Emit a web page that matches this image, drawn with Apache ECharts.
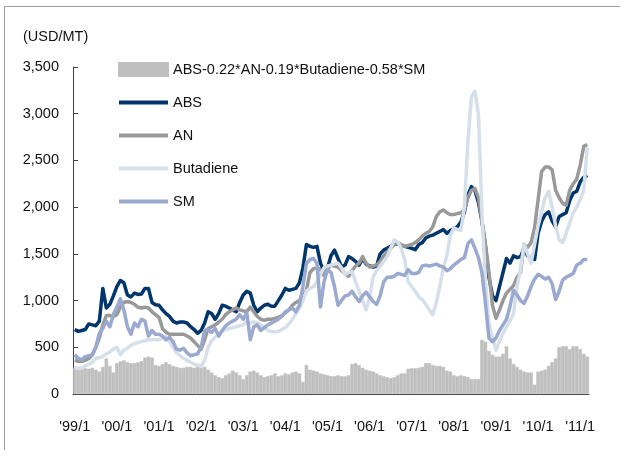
<!DOCTYPE html>
<html>
<head>
<meta charset="utf-8">
<script src="https://cdn.jsdelivr.net/npm/echarts@6/dist/echarts.min.js"></script>
<style>
  html, body { margin: 0; padding: 0; background: #fff; }
  #main { width: 624px; height: 459px; }
</style>
</head>
<body>
<div id="main"></div>
<script>
// monthly, '99/1 .. '11/3
var startYear = 1999;
var monthCount = 147;
var categories = [];
for (var k = 0; k < monthCount; k++) {
  var yy = startYear + Math.floor(k / 12);
  categories.push("'" + String(yy).slice(2) + '/' + (k % 12 + 1));
}

var spreadName = 'ABS-0.22*AN-0.19*Butadiene-0.58*SM';

var spread = [
  280, 275, 265, 275, 270, 280, 260, 240, 290, 380, 300, 230,
  330, 350, 360, 340, 330, 330, 340, 350, 390, 400, 390, 310,
  300, 320, 340, 320, 300, 290, 280, 280, 290, 290, 280, 300,
  280, 290, 260, 230, 200, 180, 170, 200, 220, 250, 230, 200,
  160, 200, 240, 250, 230, 200, 180, 190, 200, 220, 190, 200,
  220, 210, 230, 240, 220, 130, 310, 260, 250, 240, 220, 210,
  200, 190, 190, 200, 190, 190, 200, 320, 330, 310, 280, 260,
  250, 240, 220, 200, 190, 180, 170, 180, 200, 220, 220, 270,
  275, 275, 280, 290, 330, 330, 310, 300, 300, 290, 250, 240,
  200, 190, 200, 190, 180, 160, 160, 160, 580, 560, 460, 420,
  400, 400, 430, 510, 380, 320, 290, 260, 240, 230, 230, 100,
  240, 250, 260, 300, 340, 380, 500, 510, 510, 480, 510, 510,
  480, 430, 400
];

var abs = [
  690, 670, 680, 690, 750, 740, 730, 780, 1130, 920, 960, 1050,
  1150, 1215, 1190, 1060, 1040, 1080, 1065, 1070, 1130, 1130, 980, 955,
  950, 900, 860, 830, 780, 760, 770, 770, 760, 720, 690, 650,
  680, 760, 880, 860, 800, 860, 950, 940, 920, 900, 880, 980,
  1060, 1100, 1080, 950, 880, 920, 950, 960, 940, 940, 1000, 1060,
  1130, 1110, 1120, 1130, 1190, 1350, 1600, 1580, 1570, 1580, 1400, 1310,
  1350, 1480, 1540, 1450, 1360, 1380, 1470, 1450, 1420, 1380, 1450, 1390,
  1370, 1360, 1370, 1500, 1540, 1560, 1580, 1600, 1610, 1590, 1580, 1570,
  1560, 1545, 1600, 1620, 1670, 1690, 1700, 1720, 1740, 1760, 1720, 1750,
  1770, 1790, 1840, 1950, 2130, 2220, 2180, 2050, 1850, 1580, 1250, 1050,
  1000, 1150, 1300, 1450, 1400, 1480, 1460, 1470, 1560, 1480, 1450, 1440,
  1720, 1850, 1920, 1950, 1850, 1790, 1900, 1920, 1940, 2070, 2150, 2170,
  2270, 2320, 2340
];

var an = [
  360, 350, 350, 360, 380, 420, 500, 600, 740, 840, 840, 830,
  850, 930, 980, 990, 980, 960, 930, 920, 930, 920, 880, 850,
  820, 700, 660, 640, 640, 640, 640, 640, 620, 600, 560, 520,
  480, 580, 700, 720, 740, 770, 800, 850, 880, 900, 920, 900,
  890, 880, 930, 880, 830, 800, 790, 800, 800, 810, 820, 840,
  870, 900, 950, 980, 1000, 1050, 1110, 1300, 1340, 1350, 1330, 1270,
  1340, 1380, 1370, 1360, 1320, 1290, 1260, 1320, 1370, 1400, 1470, 1400,
  1360, 1370, 1380, 1420, 1480, 1520, 1560, 1600, 1620, 1600, 1580, 1590,
  1600, 1620, 1650, 1690, 1720, 1740, 1790, 1900, 1950, 1970, 1940, 1920,
  1920, 1930, 1940, 1970, 2100, 2180, 2200, 2100, 1850, 1600, 1300, 950,
  810, 900, 1000, 1080, 1120, 1160, 1250, 1300, 1600, 1570, 1620, 1780,
  2080, 2380, 2430, 2430, 2400, 2180, 2100, 2040, 2020, 2180, 2250, 2300,
  2450, 2650, 2670
];

var butadiene = [
  280, 275, 280, 300, 320, 340, 380, 390, 400, 430, 450, 480,
  500, 420, 470, 490, 520, 540, 550, 560, 570, 580, 580, 580,
  580, 600, 610, 560, 500, 440, 410, 380, 360, 340, 320, 310,
  300, 360, 500, 570, 610, 640, 670, 690, 700, 710, 720, 730,
  740, 780, 760, 770, 760, 740, 710, 680, 670, 665, 670, 690,
  710, 750, 800, 860, 920, 1000, 1100, 1130, 1150, 1200, 1280, 1350,
  1370, 1380, 1390, 1400, 1350, 1280, 1300, 1310, 1200, 1100, 1000, 900,
  1040, 1250, 1320, 1370, 1420, 1470, 1560, 1650, 1630, 1560, 1440, 1200,
  1150, 1100, 1040, 1010, 960, 900, 850, 980, 1150, 1350, 1480, 1700,
  1780, 1760, 1750, 2000, 2700, 3180, 3240, 3000, 1950, 1200, 750, 600,
  470, 560, 650, 720, 780, 860, 1150, 1330, 1610, 1500, 1400, 1600,
  1800, 1950, 2100, 2170, 2000, 1800, 1650, 1620, 1720, 1830, 1940, 2000,
  2080, 2180, 2640
];

var sm = [
  420, 380, 370, 400, 410, 420, 500, 650, 700, 780, 720, 850,
  930, 1020, 900, 720, 640, 760, 720, 800, 780, 620, 680, 640,
  640, 620, 580, 610, 560, 480, 470, 490, 440, 410, 420, 430,
  500, 680, 690, 660, 700, 620, 680, 730, 760, 780, 800, 850,
  800, 870, 580, 720, 740, 680, 710, 740, 760, 780, 800, 830,
  880, 900, 920, 880, 950, 1150, 1400, 1440, 1450, 1400, 930, 1200,
  1330, 1300, 1150, 950, 1000, 1050, 1060, 1100, 1040, 990, 1050, 1090,
  1040, 990, 960, 1050, 1200, 1250, 1250, 1260, 1290, 1280, 1270, 1330,
  1290, 1290, 1300, 1370, 1380, 1370, 1380, 1390, 1370, 1360, 1320, 1340,
  1380, 1410, 1440, 1460, 1610, 1650, 1560, 1460, 1300, 970, 600, 560,
  600, 680, 740, 800, 940, 1110, 1060, 1000, 970, 1050, 1150, 1230,
  1280, 1260, 1230, 1250, 1180, 1010, 1100, 1220, 1250, 1270, 1290, 1380,
  1400, 1440, 1440
];

var fontFamily = '"Liberation Sans", Arial, sans-serif';
var lineIcon = 'path://M0,0H49V4H0Z';

var chart = echarts.init(document.getElementById('main'));

function lineSeries(name, data, color) {
  return {
    name: name,
    type: 'line',
    data: data,
    showSymbol: false,
    symbol: 'none',
    smooth: false,
    lineStyle: { width: 3.5, color: color, join: 'round' },
    itemStyle: { color: color },
    emphasis: { disabled: true }
  };
}

var option = {
  animation: false,
  backgroundColor: '#fff',
  textStyle: { fontFamily: fontFamily },
  grid: { left: 73, right: 35, top: 67, bottom: 65, containLabel: false },
  legend: {
    orient: 'vertical',
    left: 118,
    top: 62,
    padding: 0,
    itemWidth: 49,
    itemHeight: 13,
    itemGap: 18,
    textStyle: { fontSize: 14.5, color: '#111', fontFamily: fontFamily },
    data: [
      { name: spreadName, icon: 'rect' },
      { name: 'ABS', icon: lineIcon },
      { name: 'AN', icon: lineIcon },
      { name: 'Butadiene', icon: lineIcon },
      { name: 'SM', icon: lineIcon }
    ]
  },
  xAxis: {
    type: 'category',
    data: categories,
    boundaryGap: true,
    axisLine: { lineStyle: { color: '#404040', width: 1 } },
    axisTick: { inside: true, length: 6, interval: 11, lineStyle: { color: '#404040' } },
    axisLabel: { interval: 11, margin: 25, fontSize: 14.5, color: '#111', fontFamily: fontFamily },
    splitLine: { show: false }
  },
  yAxis: {
    type: 'value',
    min: 0,
    max: 3500,
    interval: 500,
    axisLine: { show: true, lineStyle: { color: '#404040', width: 1 } },
    axisTick: { show: true, inside: true, length: 5, lineStyle: { color: '#404040' } },
    axisLabel: {
      margin: 14, fontSize: 14.5, color: '#111', fontFamily: fontFamily,
      formatter: function (v) { return v.toLocaleString('en-US'); }
    },
    splitLine: { show: false }
  },
  graphic: [
    { type: 'text', left: 23, top: 29,
      style: { text: '(USD/MT)', fontSize: 14.5, fill: '#111', fontFamily: fontFamily } },
    { type: 'line', shape: { x1: 4.5, y1: 6, x2: 4.5, y2: 450 },
      style: { stroke: '#a0a0a0', lineWidth: 1 } },
    { type: 'line', shape: { x1: 4, y1: 6.5, x2: 620, y2: 6.5 },
      style: { stroke: '#a0a0a0', lineWidth: 1 } }
  ],
  series: [
    {
      name: spreadName,
      type: 'bar',
      data: spread,
      barCategoryGap: '0%',
      itemStyle: { color: '#bfbfbf', borderColor: '#bfbfbf', borderWidth: 0.6 },
      emphasis: { disabled: true }
    },
    lineSeries('ABS', abs, '#00366b'),
    lineSeries('AN', an, '#999999'),
    lineSeries('Butadiene', butadiene, '#d6e0ea'),
    lineSeries('SM', sm, '#9aa9cf')
  ]
};

chart.setOption(option);
</script>
</body>
</html>
